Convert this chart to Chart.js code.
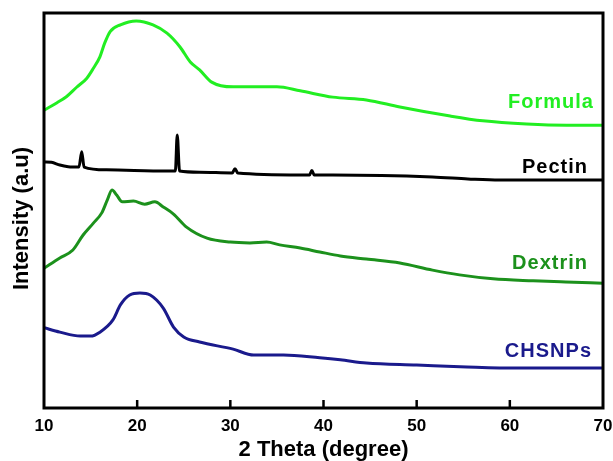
<!DOCTYPE html>
<html>
<head>
<meta charset="utf-8">
<script src="https://cdn.jsdelivr.net/npm/chart.js@4"></script>
<style>
  html, body { margin: 0; padding: 0; background: #fff; }
  canvas { display: block; }
</style>
</head>
<body>
<canvas id="xrdChart" width="613" height="461"></canvas>
<script>
// 2 theta ticks
const thetaTicks = [10, 20, 30, 40, 50, 60, 70];

// Formula
const formulaTheta = [10, 11.4, 12.4, 13.5, 14.6, 15.3, 16.0, 16.5, 17.1, 18.2, 19.9, 21.7, 23.2, 24.6, 25.7, 26.7, 28, 30.3, 32.5, 35, 37.5, 41, 44.6, 48.2, 53.6, 57.1, 61.8, 66.1, 70];
const formulaInt = [75.4, 77.3, 78.8, 81.2, 83.5, 86.0, 88.9, 92.3, 95.3, 97.0, 98.0, 97.0, 94.9, 91.4, 87.6, 85.6, 82.5, 81.3, 81.3, 81.3, 80.3, 78.7, 78.0, 76.2, 73.9, 72.7, 71.9, 71.6, 71.6];

// Pectin
const pectinTheta = [10, 10.8, 11.7, 12.6, 13.75, 14.05, 14.3, 16.7, 23.2, 24.1, 24.3, 24.55, 26.7, 30.2, 30.5, 30.8, 37.5, 38.5, 38.75, 39.0, 41, 51.7, 55.5, 58.9, 70];
const pectinInt = [62.3, 62.2, 61.5, 61.1, 61.0, 64.9, 61.0, 60.3, 60.0, 60.0, 69.1, 60.0, 59.7, 59.5, 60.6, 59.5, 59.0, 59.0, 60.1, 59.0, 59.0, 58.5, 58.0, 57.7, 57.7];

// Dextrin
const dextrinTheta = [10, 11.7, 13.1, 14.2, 15.3, 16.2, 16.8, 17.3, 17.8, 18.4, 19.6, 20.8, 21.9, 22.8, 23.9, 25.3, 27.5, 30, 32.1, 33.9, 35.3, 37.5, 39.6, 41.8, 44.6, 48.2, 51.7, 54.6, 58.2, 62.5, 66, 70];
const dextrinInt = [35.4, 38.0, 40.0, 43.8, 46.8, 49.4, 52.7, 55.2, 53.9, 52.2, 52.4, 51.6, 52.2, 50.9, 49.1, 45.8, 43.0, 42.0, 41.8, 42.0, 41.3, 40.5, 39.5, 38.5, 37.7, 36.7, 34.9, 33.7, 32.7, 32.2, 31.9, 31.6];

// CHSNPs
const chsnpTheta = [10, 11.7, 13.9, 15, 16, 17.4, 18.2, 19.2, 20.3, 21.4, 22.8, 23.9, 25, 26.7, 30.3, 32.5, 35.7, 39.6, 41.8, 44.6, 50, 55.4, 60.7, 70];
const chsnpInt = [20.3, 19.2, 18.2, 18.2, 19.2, 22.3, 26.1, 28.6, 29.1, 28.6, 25.3, 20.5, 18.0, 16.7, 14.9, 13.4, 13.4, 12.7, 12.2, 11.4, 10.9, 10.4, 10.1, 10.1];

const seriesNames = ['Formula', 'Pectin', 'Dextrin', 'CHSNPs'];

const colors = {
    Formula: '#22ee22',
    Pectin: '#000000',
    Dextrin: '#1c911c',
    CHSNPs: '#1a1a8c'
};

// where the name of each curve is written (right edge, baseline)
const nameAnchors = {
    Formula: [69.03, 75.9],
    Pectin: [68.39, 59.5],
    Dextrin: [68.39, 35.1],
    CHSNPs: [68.82, 12.9]
};

function toPoints(xs, ys) {
    return xs.map((x, i) => ({ x: x, y: ys[i] }));
}

function makeSet(name, xs, ys) {
    return {
        label: name,
        data: toPoints(xs, ys),
        borderColor: colors[name],
        borderWidth: 3,
        pointRadius: 0,
        fill: false,
        tension: 0.4,
        cubicInterpolationMode: 'monotone',
        borderJoinStyle: 'round'
    };
}

const boxPlugin = {
    id: 'box',
    afterDraw(chart) {
        const { ctx, chartArea: a, scales: { x, y } } = chart;
        ctx.save();
        ctx.strokeStyle = '#000';
        ctx.lineWidth = 3;
        ctx.strokeRect(a.left, a.top, a.right - a.left, a.bottom - a.top);

        // inward tick marks
        ctx.lineWidth = 2.5;
        thetaTicks.forEach(v => {
            if (v === x.min || v === x.max) return;
            const px = x.getPixelForValue(v);
            ctx.beginPath();
            ctx.moveTo(px, a.bottom);
            ctx.lineTo(px, a.bottom - 8);
            ctx.stroke();
        });

        // curve names
        ctx.font = 'bold 20px "Liberation Sans", Arial, sans-serif';
        ctx.letterSpacing = '1px';
        ctx.textAlign = 'right';
        ctx.textBaseline = 'alphabetic';
        seriesNames.forEach(n => {
            ctx.fillStyle = colors[n];
            ctx.fillText(n, x.getPixelForValue(nameAnchors[n][0]), y.getPixelForValue(nameAnchors[n][1]));
        });

        // y title
        ctx.letterSpacing = '0px';
        ctx.fillStyle = '#000';
        ctx.font = 'bold 22px "Liberation Sans", Arial, sans-serif';
        ctx.textAlign = 'center';
        ctx.textBaseline = 'middle';
        ctx.translate(22, (a.top + a.bottom) / 2 + 8);
        ctx.rotate(-Math.PI / 2);
        ctx.fillText('Intensity (a.u)', 0, 0);
        ctx.restore();
    }
};

const ctx = document.getElementById('xrdChart').getContext('2d');

new Chart(ctx, {
    type: 'line',
    data: {
        datasets: [
            makeSet('Formula', formulaTheta, formulaInt),
            makeSet('Pectin', pectinTheta, pectinInt),
            makeSet('Dextrin', dextrinTheta, dextrinInt),
            makeSet('CHSNPs', chsnpTheta, chsnpInt)
        ]
    },
    options: {
        responsive: false,
        animation: false,
        layout: { padding: { top: 13, right: 10, left: 0, bottom: 0 } },
        plugins: {
            legend: { display: false },
            tooltip: { enabled: false }
        },
        scales: {
            x: {
                type: 'linear',
                position: 'bottom',
                min: 10,
                max: 70,
                afterBuildTicks: s => { s.ticks = thetaTicks.map(v => ({ value: v })); },
                afterFit: s => {
                    s.height = 53;
                    s.paddingLeft = 0;
                    s.paddingRight = 0;
                },
                grid: { display: false, drawTicks: false },
                border: { display: false },
                ticks: {
                    padding: 8,
                    color: '#000',
                    maxRotation: 0,
                    autoSkip: false,
                    font: { family: '"Liberation Sans", Arial, sans-serif', size: 17, weight: 'bold' }
                },
                title: {
                    display: true,
                    text: '2 Theta (degree)',
                    color: '#000',
                    padding: { top: 0, bottom: -2 },
                    font: { family: '"Liberation Sans", Arial, sans-serif', size: 22, weight: 'bold' }
                }
            },
            y: {
                min: 0,
                max: 100,
                afterFit: s => { s.width = 44; },
                grid: { display: false, drawTicks: false },
                border: { display: false },
                ticks: { display: false }
            }
        }
    },
    plugins: [boxPlugin]
});
</script>
</body>
</html>
